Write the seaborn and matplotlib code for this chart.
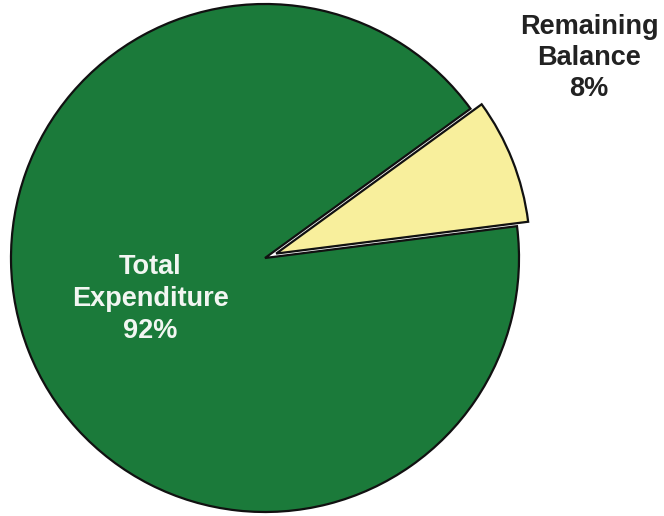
import matplotlib
matplotlib.use("Agg")
import matplotlib.pyplot as plt
import seaborn as sns

# Budget split
categories = ["Total\nExpenditure", "Remaining\nBalance"]
shares = [92, 8]
colors = ["#1B7A3A", "#F8EF9C"]

sns.set_theme(style="white")
plt.rcParams["font.family"] = ["Liberation Sans", "DejaVu Sans"]

W, H = 664, 516
fig = plt.figure(figsize=(W / 100, H / 100), dpi=100)
ax = fig.add_axes([0, 0, 1, 1])

cx, cy, r = 265, H - 258, 254
# pie offsets exploded wedges in data units, so give the pull-out in pixels
wedges, _ = ax.pie(
    shares,
    colors=colors,
    center=(cx, cy),
    radius=r,
    startangle=36.0,
    counterclock=True,
    explode=[0, 12],
    wedgeprops=dict(edgecolor="#111111", linewidth=1.6),
    frame=True,
)
ax.set_xlim(0, W)
ax.set_ylim(0, H)
ax.set_aspect("equal")
ax.axis("off")

ax.text(150, H - 299, f"{categories[0]}\n{shares[0]}%", color="#F2F6F2",
        fontsize=19.5, fontweight="bold", ha="center", va="center",
        linespacing=1.28)
ax.text(589, H - 58, f"{categories[1]}\n{shares[1]}%", color="#222222",
        fontsize=19.5, fontweight="bold", ha="center", va="center",
        linespacing=1.27)

fig.savefig("out.png", dpi=100)
